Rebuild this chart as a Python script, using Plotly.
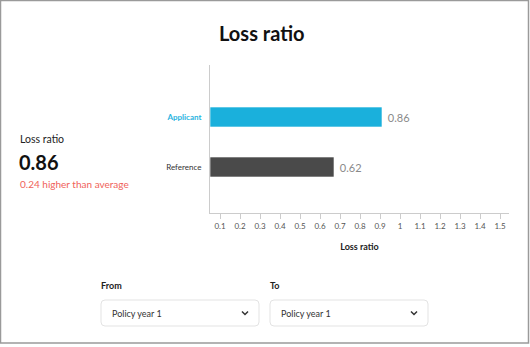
import plotly.graph_objects as go

W, H = 530, 347

# ---- data ----
categories = ["Reference", "Applicant"]
loss_ratios = [0.62, 0.86]
bar_colors = ["#4a4a4a", "#1ab0dc"]
label_colors = ["#333333", "#2ab4e0"]
tick_labels = [0.1, 0.2, 0.3, 0.4, 0.5, 0.6, 0.7, 0.8, 0.9, 1.0, 1.1, 1.2, 1.3, 1.4, 1.5]
applicant_value = 0.86
average_value = 0.62
period_options = ["Policy year 1", "Policy year 1"]
period_titles = ["From", "To"]

FONT = "Lato"
HALF_STEP = 0.05  # tick labels sit centred in their 0.1-wide band


def px(x):
    return x / W


def py(y):
    return 1 - y / H


def fmt(v):
    s = f"{v:.1f}"
    return s[:-2] if s.endswith(".0") else s


fig = go.Figure()
fig.add_trace(go.Bar(
    y=categories,
    x=loss_ratios,
    orientation="h",
    width=0.4,
    marker=dict(color=bar_colors, line=dict(color="rgba(255,255,255,0.6)", width=1)),
    text=[f" {v:.2f}" for v in loss_ratios],
    textposition="outside",
    textfont=dict(family=FONT, size=11, color="#8a8a8a"),
    cliponaxis=False,
    hoverinfo="skip",
))

fig.update_layout(
    width=W, height=H,
    margin=dict(l=0, r=0, t=0, b=0),
    paper_bgcolor="white", plot_bgcolor="white",
    showlegend=False,
    font=dict(family=FONT),
    xaxis=dict(
        domain=[px(210), px(509)],
        range=[0, 1.495],
        tickvals=[v - HALF_STEP for v in tick_labels],
        ticktext=[fmt(v) for v in tick_labels],
        ticks="outside", ticklen=5, tickcolor="#cccccc", tickwidth=1,
        tickfont=dict(family=FONT, size=8, color="#555555"),
        showgrid=False, zeroline=False,
        showline=True, linecolor="#cccccc", linewidth=1,
        title=dict(text="<b>Loss ratio</b>", font=dict(family=FONT, size=9, color="#222222"), standoff=14),
        fixedrange=True,
    ),
    yaxis=dict(
        domain=[py(213), py(65)],
        range=[-0.92, 2.04],
        tickvals=categories,
        ticktext=[
            f"<span style='color:{label_colors[0]}'>{categories[0]}</span>",
            f"<span style='color:{label_colors[1]}'><b>{categories[1]}</b></span>",
        ],
        ticks="", ticklabelstandoff=6,
        tickfont=dict(family=FONT, size=8),
        showgrid=False, zeroline=False,
        showline=True, linecolor="#cccccc", linewidth=1,
        fixedrange=True,
    ),
)

ann = []
# headline
ann.append(dict(x=px(262), y=py(33), xref="paper", yref="paper", text="<b>Loss ratio</b>",
                showarrow=False, font=dict(family=FONT, size=20, color="#111111"),
                xanchor="center", yanchor="middle"))
# summary panel
ann.append(dict(x=px(18), y=py(139), xref="paper", yref="paper", text="Loss ratio",
                showarrow=False, font=dict(family=FONT, size=10.5, color="#222222"),
                xanchor="left", yanchor="middle"))
ann.append(dict(x=px(17), y=py(162), xref="paper", yref="paper", text=f"<b>{applicant_value:.2f}</b>",
                showarrow=False, font=dict(family=FONT, size=20, color="#111111"),
                xanchor="left", yanchor="middle"))
diff = applicant_value - average_value
ann.append(dict(x=px(18), y=py(184), xref="paper", yref="paper",
                text=f"{abs(diff):.2f} {'higher' if diff > 0 else 'lower'} than average",
                showarrow=False, font=dict(family=FONT, size=10, color="#f0625a"),
                xanchor="left", yanchor="middle"))

shapes = []
# outer frame
shapes.append(dict(type="rect", xref="paper", yref="paper",
                   x0=px(0.5), x1=px(528.5), y0=py(343), y1=py(0.5),
                   line=dict(color="#9a9a9a", width=1.5), fillcolor="rgba(0,0,0,0)", layer="above"))


def rounded_rect(x0, y0, x1, y1, r):
    rx, ry = r / W, r / H
    X0, X1, Y0, Y1 = px(x0), px(x1), py(y0), py(y1)
    return (f"M {X0+rx},{Y0} L {X1-rx},{Y0} Q {X1},{Y0} {X1},{Y0-ry} "
            f"L {X1},{Y1+ry} Q {X1},{Y1} {X1-rx},{Y1} L {X0+rx},{Y1} "
            f"Q {X0},{Y1} {X0},{Y1+ry} L {X0},{Y0-ry} Q {X0},{Y0} {X0+rx},{Y0} Z")


# period selectors
for i, (title, option) in enumerate(zip(period_titles, period_options)):
    x0 = 101 + i * 169
    x1 = x0 + 158
    ann.append(dict(x=px(x0 - 2), y=py(285), xref="paper", yref="paper", text=f"<b>{title}</b>",
                    showarrow=False, font=dict(family=FONT, size=9, color="#222222"),
                    xanchor="left", yanchor="middle"))
    shapes.append(dict(type="path", xref="paper", yref="paper",
                       path=rounded_rect(x0, 300, x1, 326, 4),
                       line=dict(color="#e3e3e3", width=1), fillcolor="white"))
    ann.append(dict(x=px(x0 + 9), y=py(313), xref="paper", yref="paper", text=option,
                    showarrow=False, font=dict(family=FONT, size=9, color="#333333"),
                    xanchor="left", yanchor="middle"))
    cx = x1 - 14
    shapes.append(dict(type="path", xref="paper", yref="paper",
                       path=f"M {px(cx-3)},{py(311.5)} L {px(cx)},{py(314.5)} L {px(cx+3)},{py(311.5)}",
                       line=dict(color="#333333", width=1.5)))

fig.update_layout(annotations=ann, shapes=shapes)
fig.write_html("out.html")
